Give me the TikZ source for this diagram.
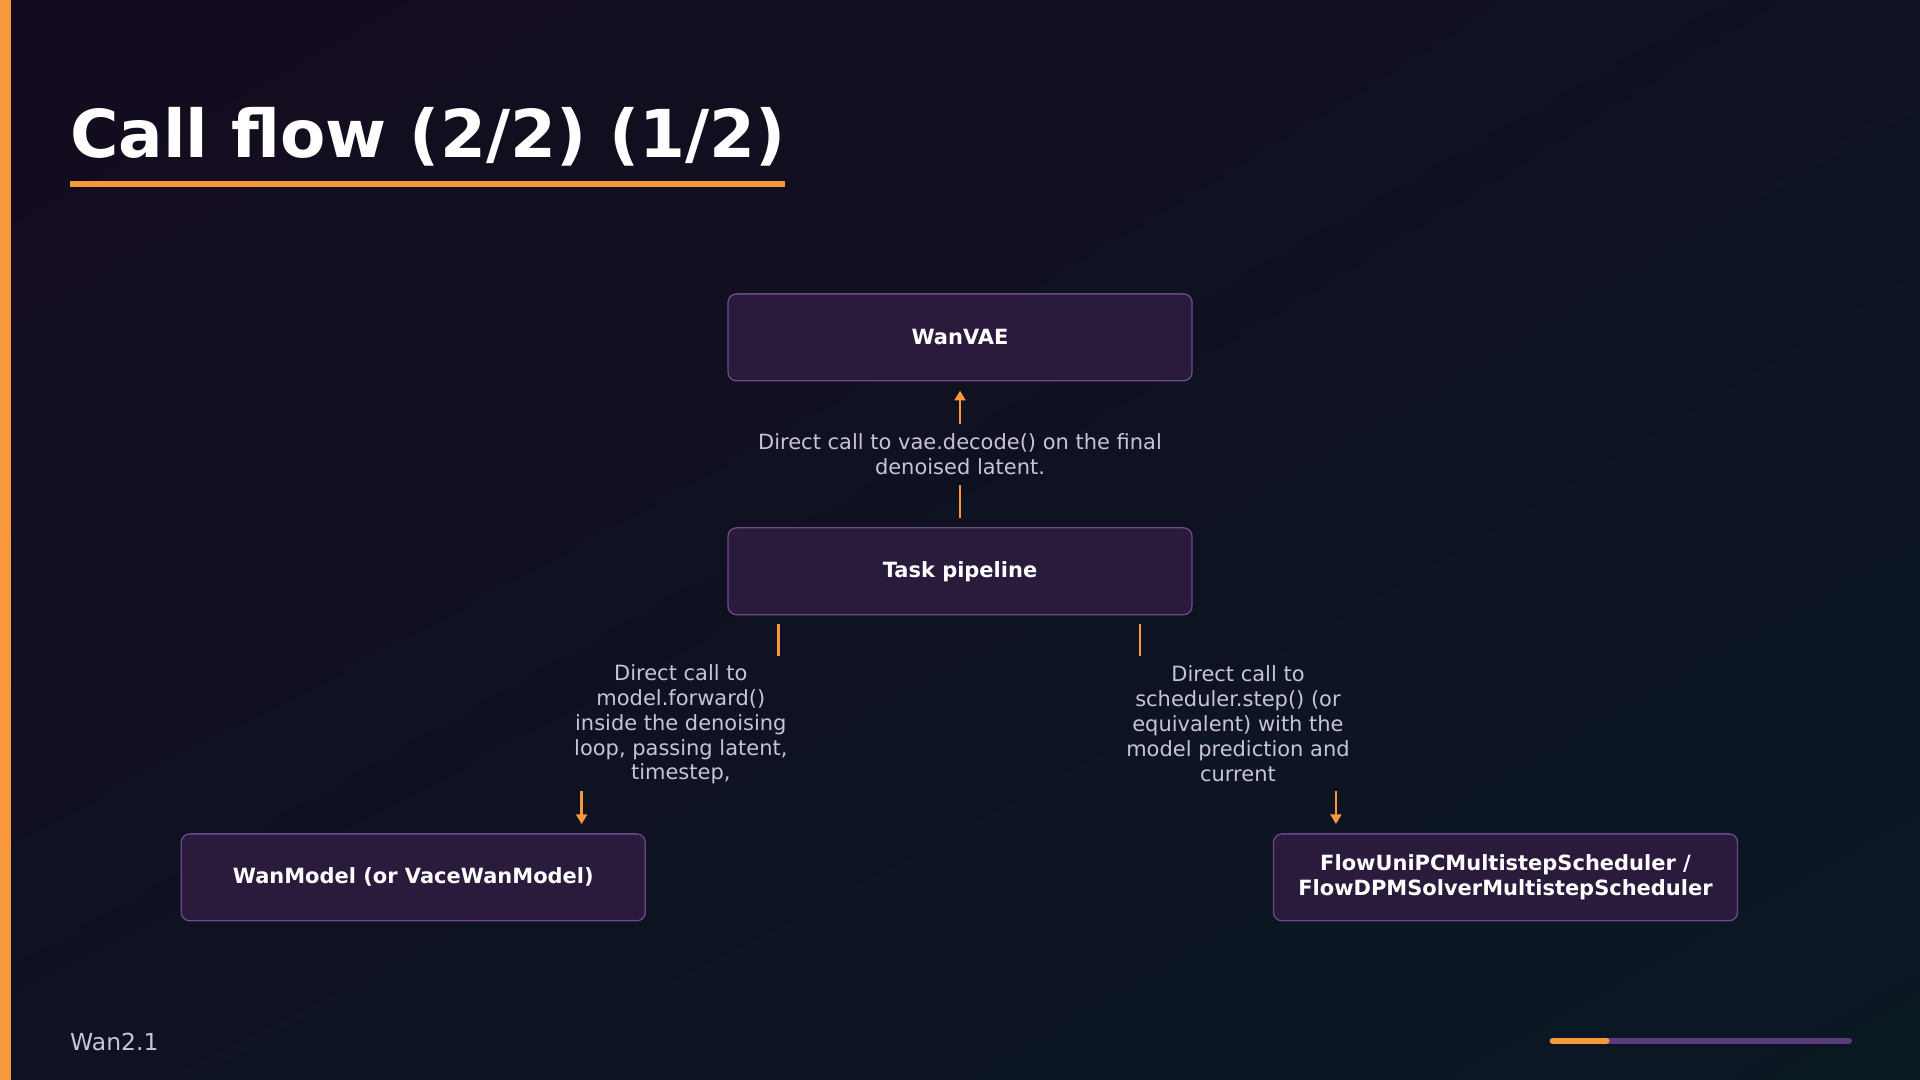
\documentclass[tikz,border=0pt]{standalone}
\usepackage{fontspec}
\setmainfont{DejaVu Sans}
\usetikzlibrary{shadings,arrows.meta}
\definecolor{bgA}{HTML}{140B1E}
\definecolor{bgB}{HTML}{0A1822}
\definecolor{bgC}{HTML}{0F1222}
\definecolor{orng}{HTML}{F7993A}
\definecolor{boxf}{HTML}{2A1B3C}
\definecolor{boxd}{HTML}{6B4A8C}
\definecolor{lbl}{HTML}{C9C3D6}
\definecolor{prp}{HTML}{5A3C7C}
\begin{document}
\begin{tikzpicture}[x=0.02cm,y=-0.02cm,
  box/.style={draw=boxd,line width=0.6pt,fill=boxf,rounded corners=4pt,minimum width=379*0.02cm,minimum height=71*0.02cm,text=white,font=\bfseries\fontsize{9.75}{11.6}\selectfont,align=center,inner sep=0},
  lab/.style={text=lbl,font=\fontsize{9.75}{11.6}\selectfont,align=center},
  con/.style={draw=orng,line width=1.2pt},
  arr/.style={con,-{Triangle[length=4.5pt,width=5pt]}}]
\useasboundingbox (0,0) rectangle (1568,882);
\shade[upper left=bgA,lower right=bgB,upper right=bgC,lower left=bgC] (0,0) rectangle (1568,882);
\fill[orng] (0,0) rectangle (9,882);
\node[anchor=base west,text=white,font=\bfseries\fontsize{30.7}{36}\selectfont,inner sep=0] (title) at (57,129) {Call flow (2/2) (1/2)};
\fill[orng] (57,148) rectangle (641,153);
\node[box] (vae) at (784,275.5) {WanVAE};
\node[box] (task) at (784,466.5) {Task pipeline};
\node[box] (wm) at (337.5,716.5) {WanModel (or VaceWanModel)};
\node[box] (flow) at (1229.5,716.5) {FlowUniPCMultistepScheduler /\\FlowDPMSolverMultistepScheduler};
\node[lab] (l1) at (784,371) {Direct call to vae.decode() on the final\\denoised latent.};
\node[lab] (l2) at (556,591.5) {Direct call to\\model.forward()\\inside the denoising\\loop, passing latent,\\timestep,};
\node[lab] (l3) at (1011,591) {Direct call to\\scheduler.step() (or\\equivalent) with the\\model prediction and\\current};
\coordinate (a1) at (784,423); \coordinate (a2) at (784,396);
\coordinate (a3) at (784,346); \coordinate (a4) at (784,319);
\coordinate (b1) at (636,510); \coordinate (b2) at (636,536);
\coordinate (b3) at (475,646); \coordinate (b4) at (475,673);
\coordinate (c1) at (931,510); \coordinate (c2) at (931,536);
\coordinate (c3) at (1091,646); \coordinate (c4) at (1091,673);
\draw[con] (a1) -- (a2); \draw[arr] (a3) -- (a4);
\draw[con] (b1) -- (b2); \draw[arr] (b3) -- (b4);
\draw[con] (c1) -- (c2); \draw[arr] (c3) -- (c4);
\node[anchor=base west,text=lbl,font=\fontsize{10.9}{12}\selectfont,inner sep=0] (foot) at (57,858) {Wan2.1};
\draw[prp,line width=2.8pt,line cap=round] (1268,850) -- (1510,850);
\draw[orng,line width=2.8pt,line cap=round] (1268,850) -- (1312,850);
\end{tikzpicture}
\end{document}
